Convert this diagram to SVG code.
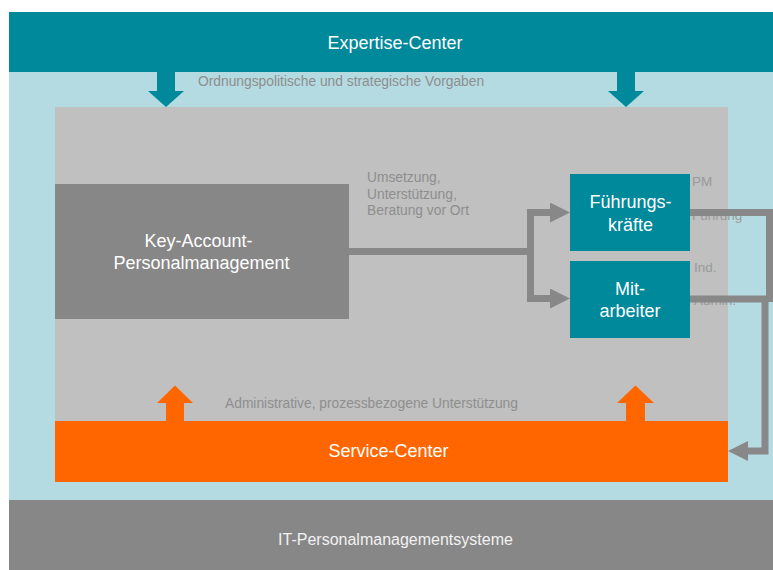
<svg xmlns="http://www.w3.org/2000/svg" width="773" height="570" viewBox="0 0 773 570">
  <defs>
    <style>
      text { font-family: "Liberation Sans", Arial, sans-serif; }
      .big { font-size: 18px; fill: #ffffff; text-anchor: middle; }
      .it { font-size: 16px; fill: #f2f2f2; text-anchor: middle; }
      .note { font-size: 13.8px; fill: #8e8e8e; }
      .tag { font-size: 13.5px; fill: #9a9a9a; }
      .teal { fill: #00889b; }
      .orange { fill: #ff6600; }
      .conn { fill: none; stroke: #888888; stroke-width: 7; stroke-linejoin: miter; }
    </style>
    <marker id="head" markerUnits="userSpaceOnUse" markerWidth="20" markerHeight="20" refX="0" refY="10" orient="auto" viewBox="0 0 20 20">
      <polygon points="0,0 20,10 0,20" fill="#888888"/>
    </marker>
  </defs>

  <!-- background panels -->
  <rect x="9" y="72" width="764" height="428" fill="#b4dbe1"/>
  <rect x="55" y="107" width="673" height="375" fill="#c0c0c0"/>

  <g id="expertise-center">
    <rect class="teal" x="9" y="12" width="764" height="60"/>
    <text class="big" x="395" y="49">Expertise-Center</text>
  </g>

  <!-- downward guidance arrows -->
  <g id="vorgaben">
    <polygon class="teal" points="157,72 175,72 175,91 184,91 166,107 148,91 157,91"/>
    <polygon class="teal" points="617,72 635,72 635,91 644,91 626,107 608,91 617,91"/>
    <text class="note" x="198" y="86">Ordnungspolitische und strategische Vorgaben</text>
  </g>

  <g id="key-account">
    <rect x="55" y="184" width="294" height="135" fill="#878787"/>
    <text class="big" x="198.5" y="247">Key-Account-</text>
    <text class="big" x="201.5" y="269">Personalmanagement</text>
  </g>

  <g id="fuehrungskraefte">
    <rect class="teal" x="570" y="174" width="120" height="77"/>
    <text class="big" x="630.5" y="208">Führungs-</text>
    <text class="big" x="630.5" y="230.5">kräfte</text>
  </g>

  <g id="mitarbeiter">
    <rect class="teal" x="570" y="261" width="120" height="77"/>
    <text class="big" x="630" y="295">Mit-</text>
    <text class="big" x="630" y="316.5">arbeiter</text>
  </g>

  <g id="service-center">
    <rect class="orange" x="55" y="421" width="673" height="61"/>
    <text class="big" x="388.5" y="457">Service-Center</text>
  </g>

  <!-- upward support arrows -->
  <g id="unterstuetzung">
    <polygon class="orange" points="166,421 184,421 184,403 193,403 175,385.5 157,403 166,403"/>
    <polygon class="orange" points="626,421 645,421 645,403 654,403 635.5,385.5 617,403 626,403"/>
    <text class="note" x="225" y="408">Administrative, prozessbezogene Unterstützung</text>
  </g>

  <g id="it-systeme">
    <rect x="9" y="500" width="764" height="70" fill="#878787"/>
    <text class="it" x="395.5" y="545">IT-Personalmanagementsysteme</text>
  </g>

  <!-- connector labels -->
  <g id="labels">
    <text class="note" x="367" y="182">Umsetzung,</text>
    <text class="note" x="367" y="198.5">Unterstützung,</text>
    <text class="note" x="367" y="215">Beratung vor Ort</text>
    <text class="tag" x="692" y="186">PM</text>
    <text class="tag" x="692" y="219.5">Führung</text>
    <text class="tag" x="694" y="272">Ind.</text>
    <text class="tag" x="694" y="305">Admin.</text>
  </g>

  <g id="connectors">
    <path class="conn" d="M349,251.5 H530.5"/>
    <path class="conn" d="M530.5,255 V212.5 H550" marker-end="url(#head)"/>
    <path class="conn" d="M530.5,248 V298.5 H550" marker-end="url(#head)"/>
    <path class="conn" d="M690,212.5 H769.5 V302"/>
    <path class="conn" d="M690,299 H765 V451 H748" marker-end="url(#head)"/>
  </g>
</svg>
